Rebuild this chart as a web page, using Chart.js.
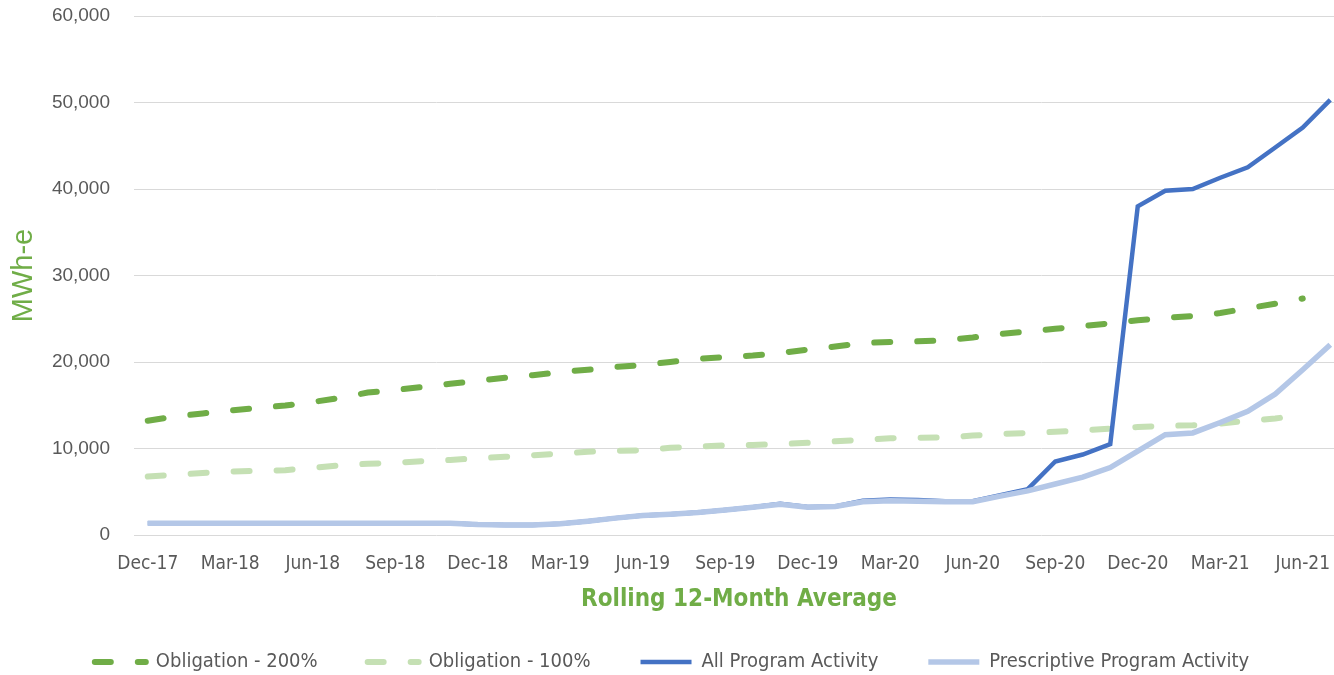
<!DOCTYPE html>
<html>
<head>
<meta charset="utf-8">
<script src="https://cdn.jsdelivr.net/npm/chart.js@4.4.1/dist/chart.umd.min.js"></script>
<style>
  html, body { margin: 0; padding: 0; background: #ffffff; overflow: hidden; }
  #wrap { position: relative; width: 1344px; height: 675px; }
</style>
</head>
<body>
<div id="wrap"><canvas id="c"></canvas></div>
<script>
const categories = [
  'Dec-17','Jan-18','Feb-18','Mar-18','Apr-18','May-18','Jun-18','Jul-18','Aug-18','Sep-18','Oct-18','Nov-18',
  'Dec-18','Jan-19','Feb-19','Mar-19','Apr-19','May-19','Jun-19','Jul-19','Aug-19','Sep-19','Oct-19','Nov-19',
  'Dec-19','Jan-20','Feb-20','Mar-20','Apr-20','May-20','Jun-20','Jul-20','Aug-20','Sep-20','Oct-20','Nov-20',
  'Dec-20','Jan-21','Feb-21','Mar-21','Apr-21','May-21','Jun-21','Jul-21'
];

const obligation200 = [
  13210, 13700, 14050, 14400, 14680, 14970, 15370, 15860, 16470, 16760, 17110, 17480,
  17830, 18170, 18470, 18840, 19100, 19420, 19650, 20000, 20350, 20580, 20740, 21040,
  21440, 21790, 22200, 22310, 22390, 22510, 22830, 23240, 23550, 23840, 24160, 24470,
  24820, 25090, 25320, 25660, 26210, 26730, 27340, null
];

const obligation100 = [
  6760, 6960, 7170, 7340, 7420, 7490, 7750, 8060, 8230, 8350, 8550, 8670,
  8880, 9040, 9220, 9420, 9620, 9730, 9800, 10080, 10230, 10350, 10400, 10520,
  10660, 10830, 11000, 11190, 11240, 11280, 11490, 11680, 11790, 11940, 12080, 12310,
  12480, 12620, 12680, 12890, 13210, 13470, 13870, null
];

const allProgram = [
  1350, 1350, 1350, 1350, 1350, 1350, 1350, 1350, 1350, 1350, 1350, 1350,
  1200, 1150, 1150, 1300, 1600, 1950, 2250, 2400, 2600, 2900, 3200, 3600,
  3250, 3300, 3950, 4100, 4050, 3900, 3900, 4600, 5300, 8500, 9300, 10500,
  38000, 39800, 40000, 41300, 42500, 44800, 47100, 50300
];

const prescriptive = [
  1350, 1350, 1350, 1350, 1350, 1350, 1350, 1350, 1350, 1350, 1350, 1350,
  1200, 1150, 1150, 1300, 1600, 1950, 2250, 2400, 2600, 2900, 3200, 3550,
  3200, 3300, 3850, 3950, 3900, 3850, 3850, 4500, 5100, 5900, 6700, 7800,
  9700, 11600, 11800, 13000, 14300, 16300, 19100, 22000
];

const seriesNames = ['Obligation - 200%', 'Obligation - 100%', 'All Program Activity', 'Prescriptive Program Activity'];

const narrow = "'Liberation Sans Narrow', 'DejaVu Sans Condensed', 'Liberation Sans', sans-serif";
const grey = '#595959';

new Chart(document.getElementById('c'), {
  type: 'line',
  data: {
    labels: categories,
    datasets: [
      { label: seriesNames[0], data: obligation200, borderColor: '#70AD47', backgroundColor: '#70AD47',
        borderWidth: 6, borderDash: [16, 27], borderCapStyle: 'round', pointRadius: 0, tension: 0, order: 4 },
      { label: seriesNames[1], data: obligation100, borderColor: '#C5E0B4', backgroundColor: '#C5E0B4',
        borderWidth: 6, borderDash: [16, 27], borderCapStyle: 'round', pointRadius: 0, tension: 0, order: 3 },
      { label: seriesNames[2], data: allProgram, borderColor: '#4472C4', backgroundColor: '#4472C4',
        borderWidth: 4.5, pointRadius: 0, tension: 0, order: 2 },
      { label: seriesNames[3], data: prescriptive, borderColor: '#B4C7E7', backgroundColor: '#B4C7E7',
        borderWidth: 5.5, pointRadius: 0, tension: 0, order: 1 }
    ]
  },
  options: {
    responsive: true,
    maintainAspectRatio: false,
    animation: false,
    layout: { padding: { top: 16, right: 0, bottom: -7, left: 0 } },
    plugins: {
      tooltip: { enabled: false },
      legend: {
        position: 'bottom',
        labels: {
          usePointStyle: true,
          pointStyle: 'line',
          pointStyleWidth: 51,
          boxHeight: 6,
          padding: 50,
          color: grey,
          font: { family: narrow, size: 20 },
          generateLabels: function (chart) {
            return chart.data.datasets.map(function (ds, i) {
              return {
                text: ds.label,
                fillStyle: ds.borderColor,
                strokeStyle: ds.borderColor,
                fontColor: grey,
                lineWidth: ds.borderWidth,
                lineDash: ds.borderDash || [],
                lineDashOffset: 0,
                lineCap: ds.borderDash ? 'round' : 'butt',
                pointStyle: 'line',
                hidden: false,
                datasetIndex: i
              };
            });
          }
        }
      }
    },
    scales: {
      x: {
        offset: true,
        afterFit: function (scale) { scale.height = 67; },
        grid: { display: false },
        border: { display: false },
        ticks: {
          autoSkip: false,
          maxRotation: 0,
          minRotation: 0,
          padding: 10,
          color: grey,
          font: { family: narrow, size: 19 },
          callback: function (value, index) { return index % 3 === 0 ? categories[index] : ''; }
        },
        title: {
          display: true,
          text: 'Rolling 12-Month Average',
          color: '#70AD47',
          font: { family: narrow, size: 24, weight: 'bold', lineHeight: 1.0 },
          padding: { top: 0, bottom: -10 }
        }
      },
      y: {
        min: 0,
        max: 60000,
        afterFit: function (scale) {
          scale.width = 134;
          scale.paddingTop = 0;
          scale.paddingBottom = 0;
        },
        grid: { color: '#D9D9D9', lineWidth: 1, drawTicks: false },
        border: { display: false },
        ticks: {
          stepSize: 10000,
          padding: 24,
          color: grey,
          font: { family: "'Liberation Sans', Arial, sans-serif", size: 19 },
          callback: function (v) { return v.toLocaleString('en-US'); }
        },
        title: {
          display: true,
          text: 'MWh-e',
          color: '#70AD47',
          font: { family: "'Liberation Sans', Arial, sans-serif", size: 29 },
          padding: { top: 7, bottom: 0 }
        }
      }
    }
  }
});
</script>
</body>
</html>
